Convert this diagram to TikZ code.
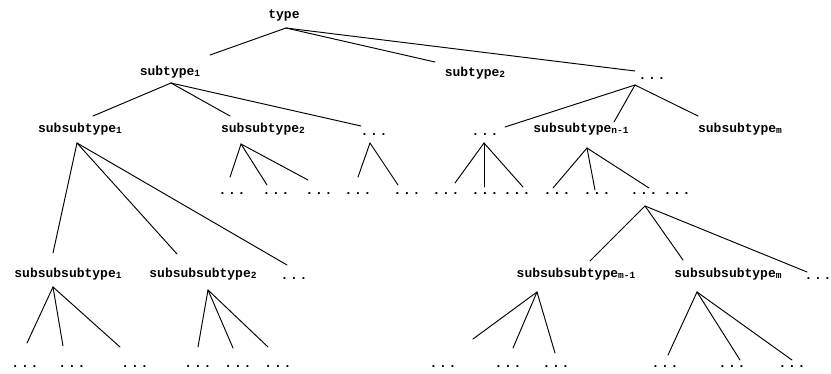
\documentclass[tikz,border=0pt]{standalone}
\usepackage{fontspec}
\setmonofont{Liberation Mono}
\usetikzlibrary{calc}
% small lowered index after a type name
\newcommand\idx[1]{\raisebox{-1.6pt}{\fontsize{9.5}{9.5}\selectfont #1}}
% widely spaced ellipsis
\newcommand\dd{.\kern1.8pt.\kern1.8pt.}
\begin{document}
\begin{tikzpicture}[x=1pt,y=-1pt,
  lbl/.style={anchor=base,inner sep=0pt,font=\ttfamily\bfseries\fontsize{13}{14}\selectfont},
  conn/.style={line width=0.95pt,line cap=round}]
\useasboundingbox (0,0) rectangle (831,373);

% level 0 and 1
\node[lbl] (type)   at (284,18) {type};
\node[lbl] (st1)    at (170,75) {subtype\idx{1}};
\node[lbl] (st2)    at (475,76) {subtype\idx{2}};
\node[lbl] (stdots) at (652,79) {\dd};

% level 2
\node[lbl] (ss1)   at (80,132)  {subsubtype\idx{1}};
\node[lbl] (ss2)   at (263,132) {subsubtype\idx{2}};
\node[lbl] (ssd1)  at (374,135) {\dd};
\node[lbl] (ssd2)  at (485,135) {\dd};
\node[lbl] (ssn1)  at (581,132) {subsubtype\idx{n-1}};
\node[lbl] (ssm)   at (740,132) {subsubtype\idx{m}};

% leaves under level 2
\node[lbl] (d1)  at (232,194) {\dd};
\node[lbl] (d2)  at (276,194) {\dd};
\node[lbl] (d3)  at (319,194) {\dd};
\node[lbl] (d4)  at (358,194) {\dd};
\node[lbl] (d5)  at (407,194) {\dd};
\node[lbl] (d6)  at (446,194) {\dd};
\node[lbl] (d7)  at (485,194) {\dd};
\node[lbl] (d8)  at (517,194) {\dd};
\node[lbl] (d9)  at (557,194) {\dd};
\node[lbl] (d10) at (597,194) {\dd};
\node[lbl] (d11) at (644,194) {\dd};
\node[lbl] (d12) at (677,194) {\dd};

% level 3
\node[lbl] (sss1)  at (68,277)  {subsubsubtype\idx{1}};
\node[lbl] (sss2)  at (203,277) {subsubsubtype\idx{2}};
\node[lbl] (sssd)  at (294,279) {\dd};
\node[lbl] (sssm1) at (576,277) {subsubsubtype\idx{m-1}};
\node[lbl] (sssm)  at (728,277) {subsubsubtype\idx{m}};
\node[lbl] (sssd2) at (818,279) {\dd};

% leaves under level 3
\node[lbl] (b1)  at (25,367)  {\dd};
\node[lbl] (b2)  at (72,367)  {\dd};
\node[lbl] (b3)  at (135,367) {\dd};
\node[lbl] (b4)  at (198,367) {\dd};
\node[lbl] (b5)  at (238,367) {\dd};
\node[lbl] (b6)  at (278,367) {\dd};
\node[lbl] (b7)  at (443,367) {\dd};
\node[lbl] (b8)  at (508,367) {\dd};
\node[lbl] (b9)  at (556,367) {\dd};
\node[lbl] (b10) at (665,367) {\dd};
\node[lbl] (b11) at (732,367) {\dd};
\node[lbl] (b12) at (792,367) {\dd};

% connectors
\draw[conn] ($(type.base)+(2,10)$) -- ($(st1.base)+(40,-20)$);
\draw[conn] ($(type.base)+(2,10)$) -- ($(st2.base)+(-40,-14)$);
\draw[conn] ($(type.base)+(2,10)$) -- ($(stdots.base)+(-17,-8)$);

\draw[conn] ($(st1.base)+(1,8)$) -- ($(ss1.base)+(13,-16)$);
\draw[conn] ($(st1.base)+(1,8)$) -- ($(ss2.base)+(-33,-16)$);
\draw[conn] ($(st1.base)+(1,8)$) -- ($(ssd1.base)+(-13,-9)$);

\draw[conn] ($(stdots.base)+(-17,6)$) -- ($(ssd2.base)+(20,-8)$);
\draw[conn] ($(stdots.base)+(-17,6)$) -- ($(ssn1.base)+(33,-10)$);
\draw[conn] ($(stdots.base)+(-17,6)$) -- ($(ssm.base)+(-42,-16)$);

\draw[conn] ($(ss1.base)+(-3,11)$) -- ($(sss1.base)+(-15,-24)$);
\draw[conn] ($(ss1.base)+(-3,11)$) -- ($(sss2.base)+(-26,-23)$);
\draw[conn] ($(ss1.base)+(-3,11)$) -- ($(sssd.base)+(-7,-14)$);

\draw[conn] ($(ss2.base)+(-22,12)$) -- ($(d1.base)+(-2,-17)$);
\draw[conn] ($(ss2.base)+(-22,12)$) -- ($(d2.base)+(-9,-9)$);
\draw[conn] ($(ss2.base)+(-22,12)$) -- ($(d3.base)+(-11,-14)$);

\draw[conn] ($(ssd1.base)+(-4,8)$) -- ($(d4.base)+(0,-17)$);
\draw[conn] ($(ssd1.base)+(-4,8)$) -- ($(d5.base)+(-9,-9)$);

\draw[conn] ($(ssd2.base)+(-1,8)$) -- ($(d6.base)+(9,-11)$);
\draw[conn] ($(ssd2.base)+(-1,8)$) -- ($(d7.base)+(-1,-7)$);
\draw[conn] ($(ssd2.base)+(-1,8)$) -- ($(d8.base)+(6,-7)$);

\draw[conn] ($(ssn1.base)+(6,16)$) -- ($(d9.base)+(-4,-6)$);
\draw[conn] ($(ssn1.base)+(6,16)$) -- ($(d10.base)+(-2,-4)$);
\draw[conn] ($(ssn1.base)+(6,16)$) -- ($(d11.base)+(5,-6)$);

\draw[conn] ($(d11.base)+(1,12)$) -- ($(sssm1.base)+(14,-16)$);
\draw[conn] ($(d11.base)+(1,12)$) -- ($(sssm.base)+(-45,-17)$);
\draw[conn] ($(d11.base)+(1,12)$) -- ($(sssd2.base)+(-11,-7)$);

\draw[conn] ($(sss1.base)+(-15,10)$) -- ($(b1.base)+(2,-24)$);
\draw[conn] ($(sss1.base)+(-15,10)$) -- ($(b2.base)+(-9,-21)$);
\draw[conn] ($(sss1.base)+(-15,10)$) -- ($(b3.base)+(-15,-20)$);

\draw[conn] ($(sss2.base)+(5,13)$) -- ($(b4.base)+(0,-20)$);
\draw[conn] ($(sss2.base)+(5,13)$) -- ($(b5.base)+(-5,-19)$);
\draw[conn] ($(sss2.base)+(5,13)$) -- ($(b6.base)+(-10,-20)$);

\draw[conn] ($(sssm1.base)+(-39,15)$) -- ($(b7.base)+(30,-28)$);
\draw[conn] ($(sssm1.base)+(-39,15)$) -- ($(b8.base)+(5,-19)$);
\draw[conn] ($(sssm1.base)+(-39,15)$) -- ($(b9.base)+(-1,-14)$);

\draw[conn] ($(sssm.base)+(-31,15)$) -- ($(b10.base)+(3,-12)$);
\draw[conn] ($(sssm.base)+(-31,15)$) -- ($(b11.base)+(8,-7)$);
\draw[conn] ($(sssm.base)+(-31,15)$) -- ($(b12.base)+(0,-7)$);
\end{tikzpicture}
\end{document}
